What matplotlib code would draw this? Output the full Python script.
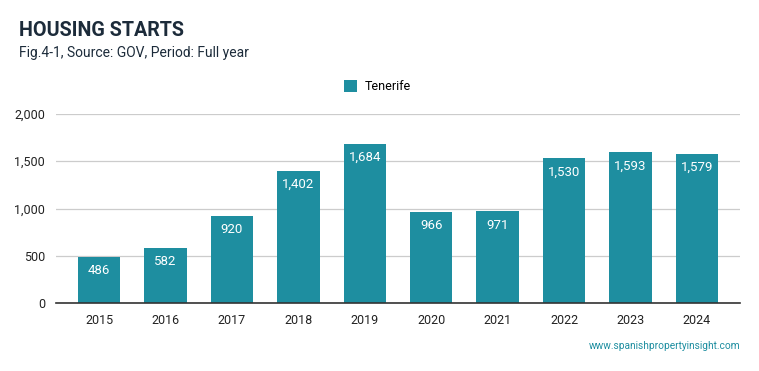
import numpy as np
import matplotlib.pyplot as plt

plt.rcParams['font.family'] = ['Roboto', 'DejaVu Sans']

#%% Data
years = ['2015', '2016', '2017', '2018', '2019', '2020', '2021', '2022', '2023', '2024']
starts = [486, 582, 920, 1402, 1684, 966, 971, 1530, 1593, 1579]
series_name = 'Tenerife'
yticks = [0, 500, 1000, 1500, 2000]

bar_col = '#1e8ea0'
dark = '#1c2b3a'

#%% Plot
fig = plt.figure(figsize=(7.59, 3.71), dpi=100)
ax = fig.add_axes([0.0738, 0.1833, 0.9012, 0.5094])

x = np.arange(len(years))
bars = ax.bar(x, starts, width=0.64, color=bar_col, zorder=3, label=series_name)

for xi, v in zip(x, starts):
    ax.annotate(f'{v:,}', (xi, v), xytext=(0, -10), textcoords='offset points',
                ha='center', va='center', color='white', fontsize=9.5)

ax.set_xlim(-0.65, len(years) - 0.35)
ax.set_ylim(0, 2000)
ax.set_yticks(yticks)
ax.set_yticklabels([f'{t:,}' for t in yticks])
ax.set_xticks(x)
ax.set_xticklabels(years)
ax.tick_params(axis='both', length=0, labelsize=9, colors='#222222')
ax.tick_params(axis='x', pad=8)
ax.tick_params(axis='y', pad=8)
ax.grid(axis='y', color='#cccccc', lw=0.9, zorder=0)
for s in ['top', 'right', 'left']:
    ax.spines[s].set_visible(False)
ax.spines['bottom'].set_color('#333333')
ax.spines['bottom'].set_linewidth(1.2)
ax.spines['bottom'].set_zorder(4)

ax.legend(loc='lower center', bbox_to_anchor=(0.47, 1.05), frameon=False,
          fontsize=9, handlelength=1.0, handleheight=1.0, handletextpad=0.6)

fig.text(0.025, 0.918, 'HOUSING STARTS', fontsize=14.2, fontweight='bold',
         color=dark, va='center')
fig.text(0.025, 0.857, 'Fig.4-1, Source: GOV, Period: Full year', fontsize=10,
         color=dark, va='center')
fig.text(0.975, 0.067, 'www.spanishpropertyinsight.com', fontsize=7.3,
         color=bar_col, ha='right', va='center')

fig.savefig('out.png', dpi=100)
